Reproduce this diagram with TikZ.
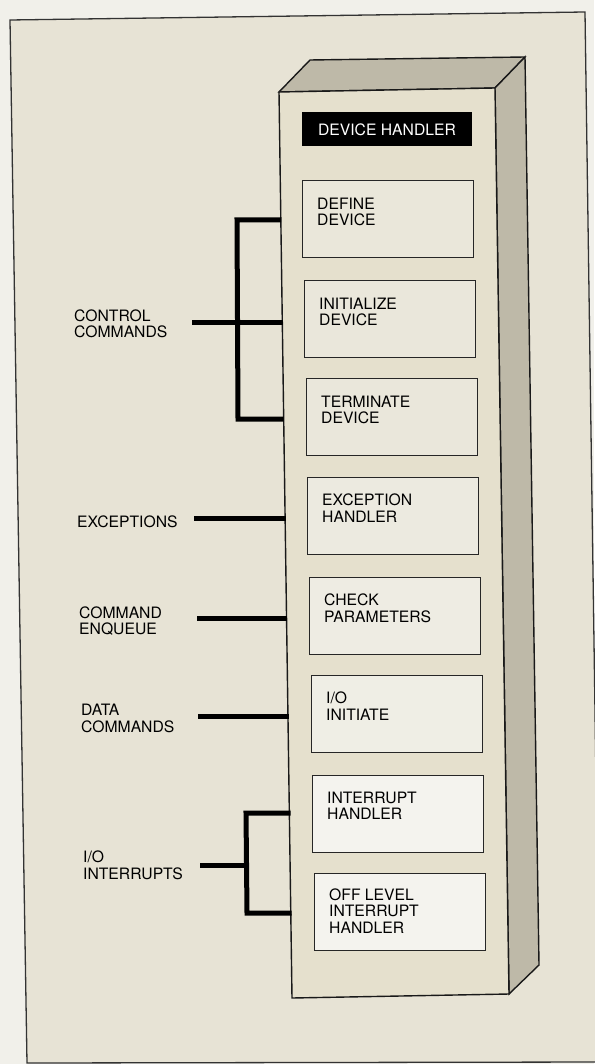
\documentclass[tikz,border=0pt]{standalone}
\usepackage{fontspec}
\setmainfont{TeX Gyre Heros}
\definecolor{paper}{RGB}{241,240,234}
\definecolor{sheet}{RGB}{231,227,213}
\definecolor{face}{RGB}{229,224,205}
\definecolor{shade}{RGB}{190,185,168}
\definecolor{boxA}{RGB}{234,231,219}
\definecolor{boxB}{RGB}{244,243,238}
\begin{document}
\begin{tikzpicture}[x=1pt,y=-1pt,
  lbl/.style={anchor=base west, inner sep=0pt, align=left, font=\fontsize{15.7}{16.5}\selectfont},
  ibox/.style={draw=black!85, line width=1.3pt, minimum width=171pt, minimum height=77pt, inner sep=0pt, anchor=north west},
  wire/.style={line width=5pt, line join=miter},
  edge/.style={draw=black!90, line width=1.4pt, line join=miter}]
\useasboundingbox (0,0) rectangle (594,1064);
\fill[paper] (0,0) rectangle (594,1064);
% sheet frame
\filldraw[fill=sheet, draw=black!80, line width=1.3pt] (10,20) -- (585,12) -- (600,1062) -- (27,1063) -- cycle;
% 3D box
\filldraw[fill=shade, edge] (279,92) -- (310,60) -- (525,57) -- (495,88) -- cycle;
\filldraw[fill=shade, edge] (495,88) -- (525,57) -- (539,965) -- (509,994) -- cycle;
\filldraw[fill=face, edge] (279,92) -- (495,88) -- (509,994) -- (292,998) -- cycle;
% title
\node[fill=black, minimum width=170pt, minimum height=34pt, inner sep=0pt, text=white,
  font=\fontsize{15.7}{16.5}\selectfont] (title) at (387,129.4) {DEVICE HANDLER};
% inner boxes
\node[ibox, fill=boxA!95!face] (b1) at (302,180) {};
\node[ibox, fill=boxA] (b2) at (304,280) {};
\node[ibox, fill=boxA] (b3) at (306,378) {};
\node[ibox, fill=boxA!75!boxB] (b4) at (307,477) {};
\node[ibox, fill=boxA!60!boxB] (b5) at (309,577) {};
\node[ibox, fill=boxA!45!boxB] (b6) at (311,675) {};
\node[ibox, fill=boxB] (b7) at (312,775) {};
\node[ibox, fill=boxB] (b8) at (314,873) {};
% (base anchor = baseline of the last line)
\node[lbl] (t1) at (317,226) {DEFINE\\DEVICE};
\node[lbl] (t2) at (319,325.5) {INITIALIZE\\DEVICE};
\node[lbl] (t3) at (321,423.5) {TERMINATE\\DEVICE};
\node[lbl] (t4) at (322,522) {EXCEPTION\\HANDLER};
\node[lbl] (t5) at (324,622) {CHECK\\PARAMETERS};
\node[lbl] (t6) at (326,720) {I/O\\INITIATE};
\node[lbl] (t7) at (327,819.5) {INTERRUPT\\HANDLER};
\node[lbl] (t8) at (329,933) {OFF LEVEL\\INTERRUPT\\HANDLER};
% left labels
\node[lbl] (l1) at (74,337.5) {CONTROL\\COMMANDS};
\node[lbl] (l2) at (77,527) {EXCEPTIONS};
\node[lbl] (l3) at (79,634.5) {COMMAND\\ENQUEUE};
\node[lbl] (l4) at (81,732) {DATA\\COMMANDS};
\node[lbl] (l5) at (83,879) {I/O\\INTERRUPTS};
% connector coordinates
\coordinate (c1a) at (281,220);
\coordinate (c1b) at (282.5,322);
\coordinate (c1c) at (283.5,419);
\coordinate (c1s) at (192,322);
\coordinate (c2s) at (194,518);
\coordinate (c2e) at (285.5,518);
\coordinate (c3s) at (197,618);
\coordinate (c3e) at (287,618);
\coordinate (c4s) at (198,716);
\coordinate (c4e) at (288.5,716);
\coordinate (c5a) at (290.5,813);
\coordinate (c5c) at (291.5,913);
\coordinate (c5s) at (200,865);
% connectors
\draw[wire] (c1a) -- (237,220) -- (238,419) -- (c1c);
\draw[wire] (c1s) -- (c1b);
\draw[wire] (c2s) -- (c2e);
\draw[wire] (c3s) -- (c3e);
\draw[wire] (c4s) -- (c4e);
\draw[wire] (c5a) -- (246,813) -- (247,913) -- (c5c);
\draw[wire] (c5s) -- (246.5,865);
\end{tikzpicture}
\end{document}
